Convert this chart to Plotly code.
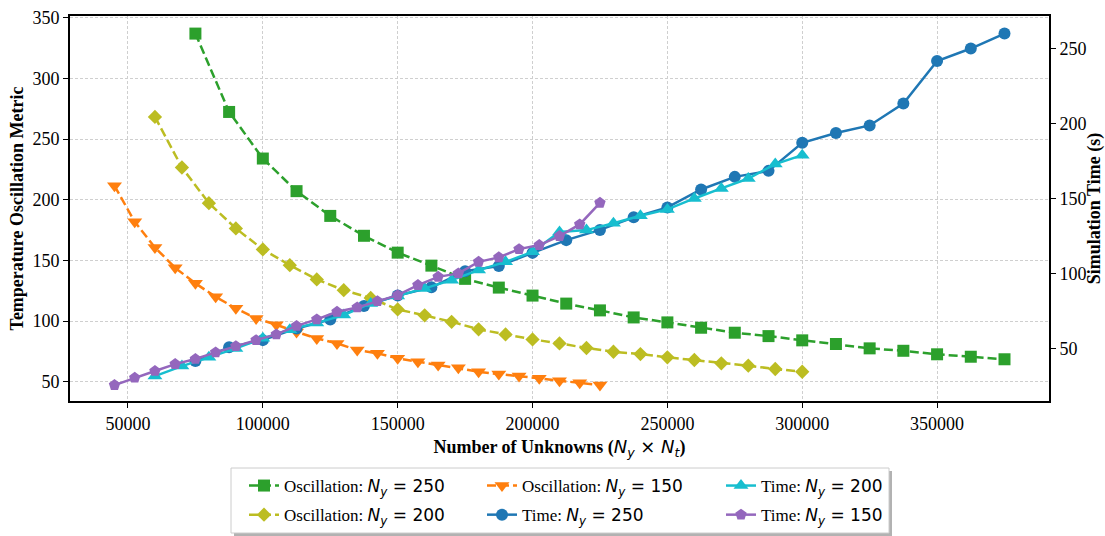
import plotly.graph_objects as go

# ---------------- data ----------------
x_250 = [75000 + 12500 * i for i in range(25)]
x_200 = [60000 + 10000 * i for i in range(25)]
x_150 = [45000 + 7500 * i for i in range(25)]

osc_250 = [337.0, 272.4, 234.0, 207.1, 186.7, 170.3, 156.4, 145.7, 134.8, 127.6,
           121.0, 114.4, 108.8, 103.0, 98.9, 94.5, 90.4, 87.6, 84.1, 81.1,
           77.5, 75.5, 72.6, 70.6, 68.5]
osc_200 = [268.3, 226.6, 197.2, 176.4, 159.1, 146.1, 134.3, 125.5, 119.0, 109.6,
           104.7, 99.4, 93.2, 89.0, 84.9, 81.6, 77.8, 74.7, 72.8, 70.1,
           67.9, 65.2, 63.2, 60.5, 58.2]
osc_150 = [211.5, 181.8, 160.7, 143.9, 131.1, 120.0, 110.5, 102.2, 97.0, 91.0,
           85.7, 81.6, 76.1, 73.4, 69.3, 66.5, 63.8, 61.5, 58.2, 56.3,
           54.7, 52.8, 50.8, 49.2, 47.3]

time_250 = [41.5, 50.7, 55.5, 63.3, 69.3, 78.2, 85.3, 90.7, 101.5, 104.9,
            113.7, 122.2, 129.0, 137.4, 144.0, 156.0, 164.4, 168.4, 187.1, 193.7,
            198.7, 213.3, 241.7, 250.0, 260.0]
time_200 = [31.5, 38.2, 44.0, 50.0, 56.7, 62.5, 67.0, 72.2, 80.0, 84.9,
            90.0, 95.5, 102.2, 107.7, 114.4, 127.7, 128.9, 133.5, 138.5, 142.7,
            150.0, 156.7, 163.3, 172.9, 178.9]
time_150 = [25.5, 30.4, 34.9, 39.5, 42.9, 47.3, 51.5, 55.5, 59.3, 65.0,
            69.3, 74.4, 77.3, 81.5, 85.5, 92.2, 97.7, 100.0, 107.7, 110.7,
            116.2, 118.9, 124.9, 132.7, 147.1]

x_ticks = [50000, 100000, 150000, 200000, 250000, 300000, 350000]
y1_ticks = [50, 100, 150, 200, 250, 300, 350]
y2_ticks = [50, 100, 150, 200, 250]

SERIF = "Liberation Serif, Times New Roman, serif"
MATH = "font-family:DejaVu Sans"


def lab(prefix, n):
    return f"{prefix}: <span style='{MATH}'><i>N</i><sub><i>y</i></sub> = {n}</span>"


fig = go.Figure()

# (x, y, colour, symbol, size, Ny, axis, dashed, legend column, kind)
specs = [
    (x_250, osc_250, "#2ca02c", "square", 12, "250", "y", True, "legend", "Oscillation"),
    (x_200, osc_200, "#bcbd22", "diamond", 11, "200", "y", True, "legend", "Oscillation"),
    (x_150, osc_150, "#ff7f0e", "triangle-down", 13, "150", "y", True, "legend2", "Oscillation"),
    (x_250, time_250, "#1f77b4", "circle", 12, "250", "y2", False, "legend2", "Time"),
    (x_200, time_200, "#17becf", "triangle-up", 13, "200", "y2", False, "legend3", "Time"),
    (x_150, time_150, "#9467bd", "pentagon", 12, "150", "y2", False, "legend3", "Time"),
]
for i, (xs, ys, col, sym, sz, n, ax, dashed, leg, kind) in enumerate(specs):
    fig.add_trace(go.Scatter(
        x=xs, y=ys, mode="lines+markers", name=lab(kind, n),
        line=dict(color=col, width=2.5, dash="9px,4px" if dashed else "solid"),
        marker=dict(symbol=sym, size=sz, color=col),
        legend=leg, legendgroup=f"g{i}", yaxis=ax))

axis_common = dict(
    showline=True, linecolor="black", linewidth=2,
    ticks="outside", ticklen=5, tickwidth=1, tickcolor="black",
    tickfont=dict(family=SERIF, size=18, color="black"),
    zeroline=False, automargin=False,
)

L, R, T, B = 70, 56, 16, 135
W, H = 1105, 536
PW, PH = W - L - R, H - T - B


def px_x(p):
    return (p - L) / PW


def px_y(p):
    return (H - B - p) / PH


leg_common = dict(
    orientation="v", xanchor="left", yanchor="top", y=px_y(468),
    font=dict(family=SERIF, size=17, color="black"),
    bgcolor="rgba(0,0,0,0)", borderwidth=0,
    traceorder="grouped", tracegroupgap=4,
)

fig.update_layout(
    width=W, height=H,
    margin=dict(l=L, r=R, t=T, b=B, autoexpand=False),
    paper_bgcolor="white", plot_bgcolor="white",
    font=dict(family=SERIF, color="black"),
    xaxis=dict(
        range=[28500, 391500], tickvals=x_ticks, tickformat="d",
        mirror=True, showgrid=True, gridcolor="#cfcfcf", gridwidth=0.8,
        griddash="3px,2px",
        title=dict(text="<b>Number of Unknowns (</b><span style='" + MATH + "'><i>N</i><sub><i>y</i></sub> × <i>N</i><sub><i>t</i></sub></span><b>)</b>",
                   font=dict(family=SERIF, size=18), standoff=8),
        **axis_common),
    yaxis=dict(
        range=[34.1, 351.5], tickvals=y1_ticks, mirror=True,
        showgrid=True, gridcolor="#cfcfcf", gridwidth=0.8, griddash="3px,2px",
        title=dict(text="<b>Temperature Oscillation Metric</b>",
                   font=dict(family=SERIF, size=18), standoff=4),
        **axis_common),
    yaxis2=dict(
        range=[14.9, 271.7], tickvals=y2_ticks, overlaying="y", side="right",
        showgrid=False,
        title=dict(text="<b>Simulation Time (s)</b>",
                   font=dict(family=SERIF, size=18), standoff=3),
        **axis_common),
    legend=dict(x=px_x(244), **leg_common),
    legend2=dict(x=px_x(482), **leg_common),
    legend3=dict(x=px_x(721), **leg_common),
    shapes=[
        dict(type="rect", xref="paper", yref="paper", layer="above",
             x0=px_x(234), x1=px_x(892), y0=px_y(471), y1=px_y(536),
             fillcolor="rgba(0,0,0,0.3)", line=dict(width=0)),
        dict(type="rect", xref="paper", yref="paper", layer="above",
             x0=px_x(231), x1=px_x(889), y0=px_y(468), y1=px_y(533),
             fillcolor="white", line=dict(color="#cccccc", width=1)),
    ],
)

fig.write_html("out.html")
